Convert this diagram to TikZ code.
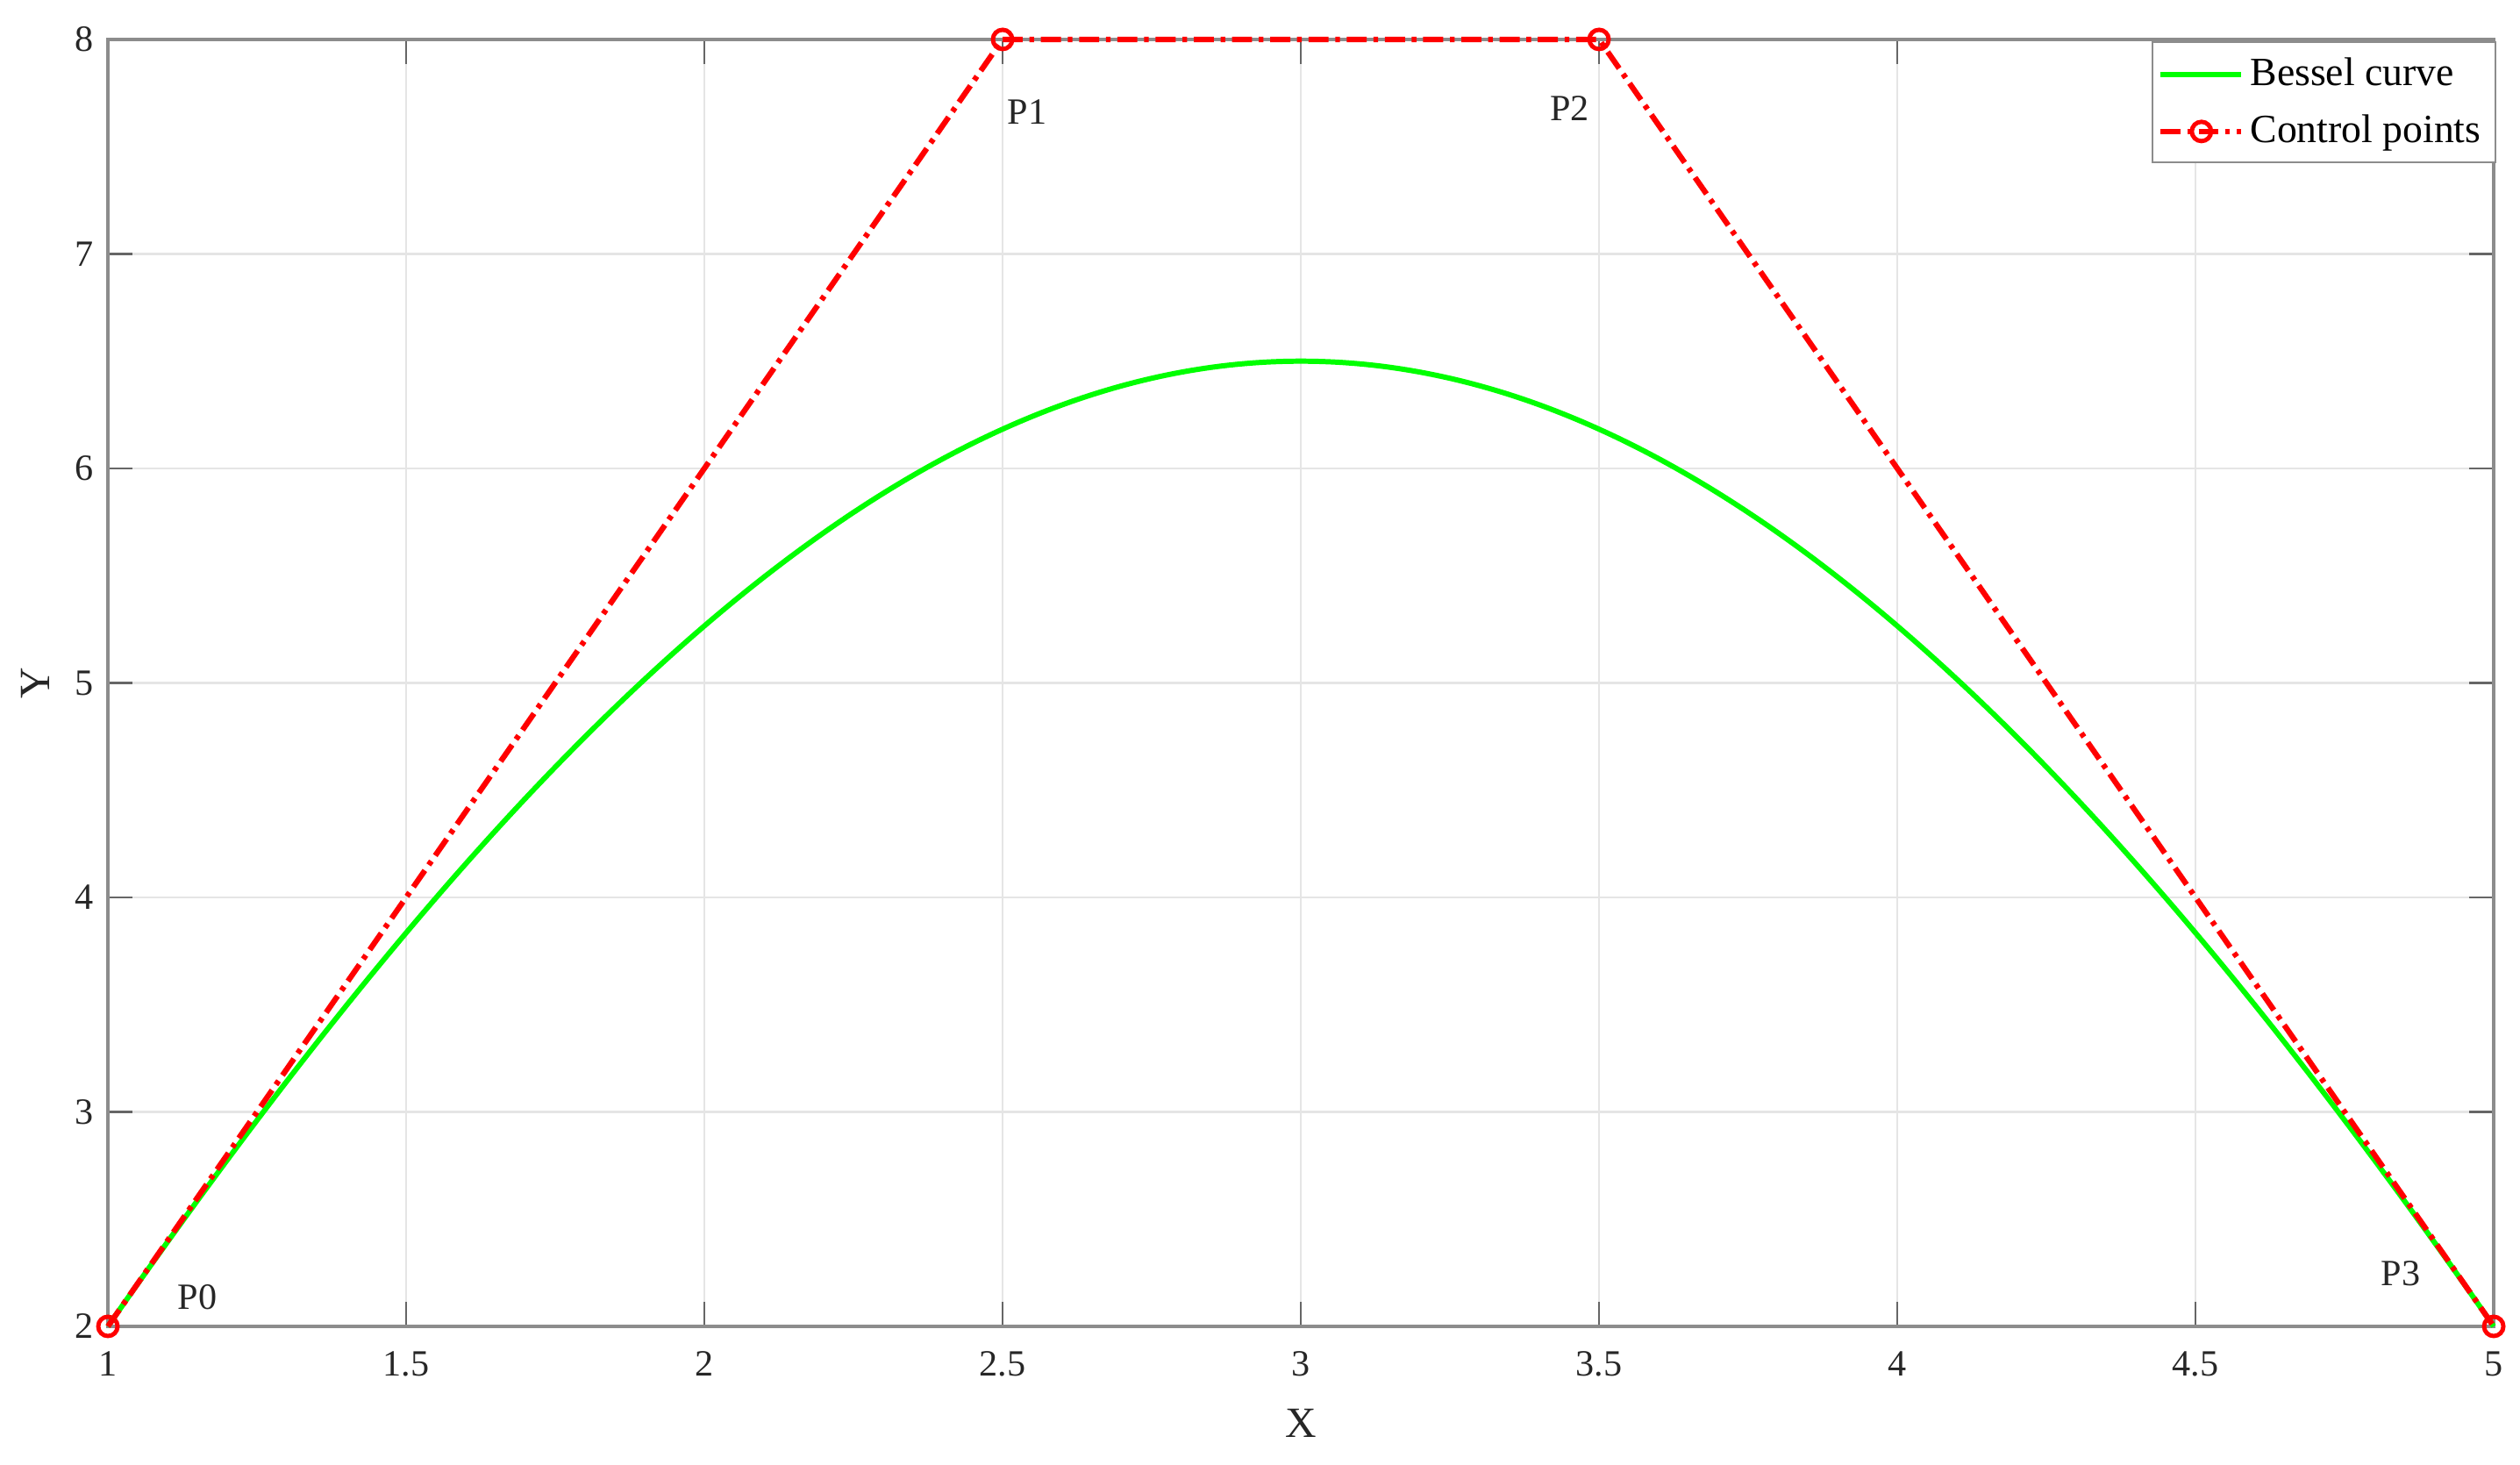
\documentclass[tikz,border=0pt]{standalone}
\usepackage{fontspec}
\setmainfont{Liberation Serif}
\usetikzlibrary{positioning}

\tikzset{
  gridline/.style={draw=black!10, line width=0.6pt},
  axisbox/.style={draw=black!45, line width=0.9pt},
  tickmark/.style={draw=black!60, line width=0.6pt},
  ticklabel/.style={font=\fontsize{12}{14}\selectfont, text=black!85, inner sep=0pt},
  axislabel/.style={font=\fontsize{14}{16}\selectfont, text=black!85, inner sep=0pt},
  bezcurve/.style={draw=green, line width=1.7pt},
  ctrlline/.style={draw=red, line width=1.8pt, dash pattern=on 6.5pt off 2.2pt on 1.5pt off 2.2pt},
  ctrlpt/.style={circle, draw=red, line width=1.4pt, minimum size=0.22cm, inner sep=0pt},
  ptlabel/.style={font=\fontsize{12}{14}\selectfont, text=black!85, inner sep=0pt},
  legendbox/.style={draw=black!45, line width=0.6pt, fill=white},
  legendtext/.style={font=\fontsize{13}{15}\selectfont, anchor=base west, inner sep=0pt},
}

\begin{document}
\begin{tikzpicture}[x=6.8cm, y=2.445cm]
  \useasboundingbox (0.8191,1.3538) rectangle (5.0441,8.1840);

  \draw[gridline, xstep=0.5, ystep=1] (1,2) grid (5,8);
  \foreach \xv in {1.5,2,...,4.5} {
    \draw[tickmark] (\xv,2) -- ++(0,0.1145);
    \draw[tickmark] (\xv,8) -- ++(0,-0.1145);
  }
  \foreach \yv in {3,...,7} {
    \draw[tickmark] (1,\yv) -- ++(0.0412,0);
    \draw[tickmark] (5,\yv) -- ++(-0.0412,0);
  }
  \draw[axisbox] (1,2) rectangle (5,8);

  \node[ticklabel] (xt1)  at (1,1.824)   {1};
  \node[ticklabel] (xt2)  at (1.5,1.824) {1.5};
  \node[ticklabel] (xt3)  at (2,1.824)   {2};
  \node[ticklabel] (xt4)  at (2.5,1.824) {2.5};
  \node[ticklabel] (xt5)  at (3,1.824)   {3};
  \node[ticklabel] (xt6)  at (3.5,1.824) {3.5};
  \node[ticklabel] (xt7)  at (4,1.824)   {4};
  \node[ticklabel] (xt8)  at (4.5,1.824) {4.5};
  \node[ticklabel] (xt9)  at (5,1.824)   {5};

  \node[ticklabel, anchor=east] (yt2) at (0.9765,2) {2};
  \node[ticklabel, anchor=east] (yt3) at (0.9765,3) {3};
  \node[ticklabel, anchor=east] (yt4) at (0.9765,4) {4};
  \node[ticklabel, anchor=east] (yt5) at (0.9765,5) {5};
  \node[ticklabel, anchor=east] (yt6) at (0.9765,6) {6};
  \node[ticklabel, anchor=east] (yt7) at (0.9765,7) {7};
  \node[ticklabel, anchor=east] (yt8) at (0.9765,8) {8};

  \node[axislabel] (xlab) at (3,1.550) {X};
  \node[axislabel, rotate=90] (ylab) at (0.878,5) {Y};

  \node[ctrlpt] (p0) at (1,2) {};
  \node[ctrlpt] (p1) at (2.5,8) {};
  \node[ctrlpt] (p2) at (3.5,8) {};
  \node[ctrlpt] (p3) at (5,2) {};

  \draw[bezcurve] (p0.center) .. controls (p1.center) and (p2.center) .. (p3.center);
  \draw[ctrlline] (p0.center) -- (p1.center) -- (p2.center) -- (p3.center);

  \node[ptlabel] (lp0) at (1.150,2.135) {P0};
  \node[ptlabel] (lp1) at (2.541,7.661) {P1};
  \node[ptlabel] (lp2) at (3.451,7.680) {P2};
  \node[ptlabel] (lp3) at (4.844,2.245) {P3};

  \draw[legendbox] (4.428,7.427) rectangle (5.003,7.988);
  \coordinate (lga) at (4.441,7.836);
  \coordinate (lgb) at (4.576,7.836);
  \coordinate (lgc) at (4.441,7.571);
  \coordinate (lgd) at (4.576,7.571);
  \draw[bezcurve] (lga) -- (lgb);
  \draw[ctrlline] (lgc) -- (lgd);
  \node[ctrlpt] (lgm) at (4.510,7.571) {};
  \node[legendtext] (lgt1) at (4.591,7.787) {Bessel curve};
  \node[legendtext] (lgt2) at (4.591,7.521) {Control points};
\end{tikzpicture}
\end{document}
